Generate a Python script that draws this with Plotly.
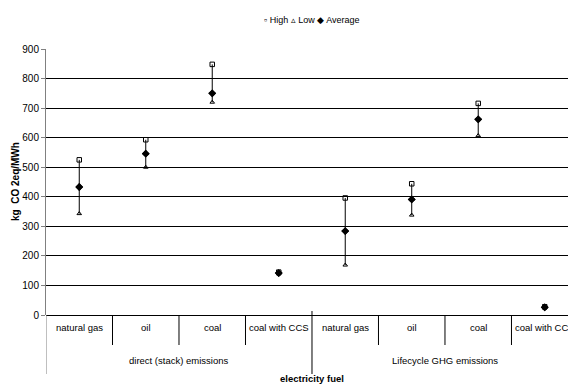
import plotly.graph_objects as go

# Emission factors per electricity fuel (kg CO2eq / MWh)
fuels = ["natural gas", "oil", "coal", "coal with CCS",
         "natural gas", "oil", "coal", "coal with CCS"]
groups = ["direct (stack) emissions", "Lifecycle GHG emissions"]
fuels_per_group = 4

high = [525, 593, 848, 145, 396, 444, 716, 28]
low = [343, 500, 720, 139, 169, 338, 607, 24]
average = [433, 546, 750, 142, 284, 391, 662, 26]

y_ticks = [0, 100, 200, 300, 400, 500, 600, 700, 800, 900]

W, H = 568, 385
M_L, M_R, M_T, M_B = 46, 0, 49, 70
plot_h = H - M_T - M_B

FONT = "Liberation Sans, Arial, sans-serif"


def px_to_paper_y(offset_px):
    """Convert a pixel offset below the x axis line into paper units."""
    return -offset_px / plot_h


x_idx = list(range(len(fuels)))
err_plus = [h - a for h, a in zip(high, average)]
err_minus = [a - l for a, l in zip(average, low)]

fig = go.Figure()

# high-low range line drawn as error bars around the average
fig.add_trace(go.Scatter(
    x=x_idx, y=average, mode="markers",
    marker=dict(symbol="diamond", size=6, color="black"),
    error_y=dict(type="data", symmetric=False, array=err_plus,
                 arrayminus=err_minus, color="black", thickness=1, width=0),
    showlegend=False, cliponaxis=False,
))
fig.add_trace(go.Scatter(
    x=x_idx, y=high, mode="markers",
    marker=dict(symbol="square-open", size=4.5, color="black",
                line=dict(width=1, color="black")),
    showlegend=False, cliponaxis=False,
))
fig.add_trace(go.Scatter(
    x=x_idx, y=low, mode="markers",
    marker=dict(symbol="triangle-up-open", size=4, color="black",
                line=dict(width=1, color="black")),
    showlegend=False, cliponaxis=False,
))
# redraw averages on top of the other markers
fig.add_trace(go.Scatter(
    x=x_idx, y=average, mode="markers",
    marker=dict(symbol="diamond", size=6, color="black"),
    showlegend=False, cliponaxis=False,
))

shapes = []
annotations = []

# inner category separators and labels
for i, name in enumerate(fuels):
    annotations.append(dict(
        x=i, y=0, xref="x", yref="paper", text=name, showarrow=False,
        yanchor="middle", yshift=-12, font=dict(family=FONT, size=9.5, color="black"),
    ))
    if i > 0 and i % fuels_per_group != 0:
        shapes.append(dict(
            type="line", xref="x", yref="paper", x0=i - 0.5, x1=i - 0.5,
            y0=0, y1=px_to_paper_y(30), line=dict(color="black", width=1),
        ))

# outer group dividers and labels
for g, gname in enumerate(groups):
    start = g * fuels_per_group
    centre = start + (fuels_per_group - 1) / 2
    annotations.append(dict(
        x=centre, y=0, xref="x", yref="paper", text=gname, showarrow=False,
        yanchor="middle", yshift=-45, font=dict(family=FONT, size=9.5, color="black"),
    ))
    shapes.append(dict(
        type="line", xref="x", yref="paper", x0=start - 0.5, x1=start - 0.5,
        y0=px_to_paper_y(-4) if g > 0 else 0, y1=px_to_paper_y(59),
        line=dict(color="black" if g > 0 else "#808080", width=1),
    ))

# x axis title
annotations.append(dict(
    x=(len(fuels) - 1) / 2, y=0, xref="x", yref="paper", text="<b>electricity fuel</b>",
    showarrow=False, yanchor="middle", yshift=-63,
    font=dict(family=FONT, size=9.5, color="black"),
))

# y axis title
annotations.append(dict(
    x=0, y=0.5, xref="paper", yref="paper", text="<b>kg  CO 2eq/MWh</b>",
    showarrow=False, textangle=-90, xanchor="center", yanchor="middle", xshift=-31,
    font=dict(family=FONT, size=10, color="black"),
))

# legend line
annotations.append(dict(
    x=0.51, y=1, xref="paper", yref="paper",
    text="▫ High ▵ Low ◆ Average", showarrow=False,
    yanchor="middle", yshift=29, font=dict(family=FONT, size=9, color="black"),
))

fig.update_layout(
    width=W, height=H,
    margin=dict(l=M_L, r=M_R, t=M_T, b=M_B),
    paper_bgcolor="white", plot_bgcolor="white",
    font=dict(family=FONT, size=10, color="black"),
    shapes=shapes, annotations=annotations,
    xaxis=dict(range=[-0.5, 7.35], showgrid=False, zeroline=False,
               showticklabels=False, ticks="", showline=False, fixedrange=True),
    yaxis=dict(range=[0, 900], tickvals=y_ticks, showgrid=True,
               gridcolor="black", gridwidth=1, zeroline=True, zerolinecolor="black",
               zerolinewidth=1, showline=True, linecolor="#808080", linewidth=1,
               ticks="outside", ticklen=4, tickcolor="#808080",
               tickfont=dict(family=FONT, size=10, color="black"), fixedrange=True),
)

fig.write_html("out.html")
